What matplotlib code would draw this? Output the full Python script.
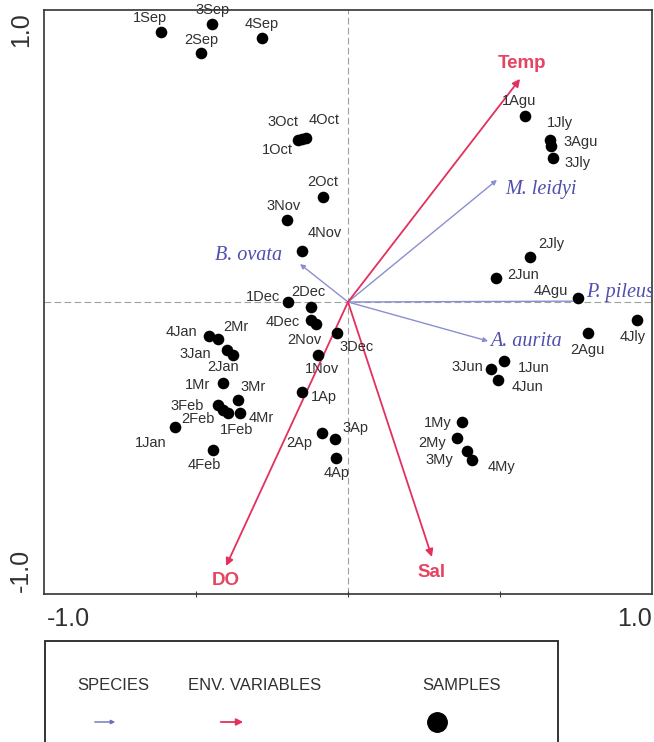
import numpy as np
import matplotlib
matplotlib.use("Agg")
import matplotlib.pyplot as plt
from matplotlib.patches import Rectangle, FancyArrowPatch
from matplotlib.lines import Line2D

plt.rcParams['font.family'] = ['Liberation Sans', 'DejaVu Sans']

# samples (site scores)
sample_names = ['1Sep', '2Sep', '3Sep', '4Sep', '1Oct', '3Oct', '4Oct', '2Oct',
                '3Nov', '4Nov', '1Dec', '2Dec', '4Dec', '2Nov', '3Dec', '1Nov',
                '4Jan', '2Mr', '3Jan', '2Jan', '1Mr', '3Mr', '3Feb', '2Feb',
                '1Feb', '4Mr', '1Jan', '4Feb', '1Ap', '2Ap', '3Ap', '4Ap',
                '1Agu', '1Jly', '3Agu', '3Jly', '2Jly', '2Jun', '4Agu', '4Jly',
                '2Agu', '1Jun', '3Jun', '4Jun', '1My', '2My', '3My', '4My']
sample_x = [-0.615, -0.484, -0.447, -0.283, -0.164, -0.151, -0.138, -0.082,
            -0.201, -0.151, -0.197, -0.122, -0.122, -0.105, -0.036, -0.099,
            -0.457, -0.428, -0.398, -0.378, -0.411, -0.362, -0.428, -0.411,
            -0.395, -0.355, -0.569, -0.444, -0.151, -0.086, -0.043, -0.039,
            0.582, 0.664, 0.668, 0.674, 0.599, 0.487, 0.757, 0.951,
            0.789, 0.513, 0.470, 0.493, 0.375, 0.359, 0.391, 0.408]
sample_y = [0.925, 0.853, 0.952, 0.904, 0.555, 0.558, 0.562, 0.360,
            0.281, 0.175, 0.000, -0.017, -0.062, -0.075, -0.106, -0.182,
            -0.116, -0.127, -0.164, -0.182, -0.277, -0.336, -0.353, -0.370,
            -0.380, -0.380, -0.428, -0.507, -0.308, -0.449, -0.469, -0.534,
            0.637, 0.555, 0.534, 0.493, 0.154, 0.082, 0.014, -0.062,
            -0.106, -0.202, -0.229, -0.267, -0.411, -0.466, -0.510, -0.541]

# species arrows
species_names = ['M. leidyi', 'B. ovata', 'P. pileus', 'A. aurita']
species_x = [0.490, -0.158, 0.773, 0.461]
species_y = [0.418, 0.130, 0.003, -0.134]

# environmental variable arrows
env_names = ['Temp', 'DO', 'Sal']
env_x = [0.566, -0.401, 0.276]
env_y = [0.764, -0.904, -0.873]

# label offsets in pixels (layout only)
label_offsets = {
    '1Sep': (-11, 14), '3Sep': (0, 14), '2Sep': (0, 13), '4Sep': (0, 14),
    '3Oct': (-19, 17), '4Oct': (18, 18), '1Oct': (-21, -10), '2Oct': (0, 15),
    '3Nov': (-3, 14), '4Nov': (23, 18), '1Dec': (-25, 5), '2Dec': (-3, 15),
    '4Dec': (-28, -2), '2Nov': (-12, -16), '3Dec': (20, -14), '1Nov': (4, -14),
    '4Jan': (-28, 4), '2Mr': (18, 12), '3Jan': (-32, -4), '2Jan': (-10, -12),
    '1Mr': (-26, -2), '3Mr': (15, 13), '3Feb': (-31, -1), '2Feb': (-25, -9),
    '1Feb': (9, -17), '4Mr': (21, -5), '1Jan': (-24, -16), '4Feb': (-9, -15),
    '1Ap': (22, -5), '2Ap': (-23, -10), '3Ap': (21, 11), '4Ap': (0, -15),
    '1Agu': (-6, 15), '1Jly': (10, 17), '3Agu': (30, 4), '3Jly': (25, -5),
    '2Jly': (21, 13), '2Jun': (27, 3), '4Agu': (-27, 7), '4Jly': (-4, -17),
    '2Agu': (0, -17), '1Jun': (30, -7), '3Jun': (-24, 2), '4Jun': (30, -7),
    '1My': (-24, -1), '2My': (-25, -5), '3My': (-28, -9), '4My': (29, -7),
}
species_label_pos = {'M. leidyi': (44, -10), 'B. ovata': (-51, 9),
                     'P. pileus': (3, 9), 'A. aurita': (38, 0)}
species_label_ha = {'M. leidyi': 'center', 'B. ovata': 'center',
                    'P. pileus': 'left', 'A. aurita': 'center'}
env_label_pos = {'Temp': (2, 15), 'DO': (0, -15), 'Sal': (0, -16)}

RED = '#e3305c'
RED_TXT = '#e44560'
BLUE = '#8a8fd0'
BLUE_TXT = '#4f4fae'
TXT = '#303030'

W, H = 654, 742
fig = plt.figure(figsize=(W / 100, H / 100), dpi=100)
ax = fig.add_axes([44 / W, 1 - 594 / H, 608 / W, 584 / H])
ax.set_xlim(-1, 1)
ax.set_ylim(-1, 1)

ax.axhline(0, color='#a0a0a0', lw=0.8, ls=(0, (6, 3)), zorder=1)
ax.axvline(0, color='#a0a0a0', lw=0.8, ls=(0, (6, 3)), zorder=1)

for name, x, y in zip(species_names, species_x, species_y):
    ax.annotate('', xy=(x, y), xytext=(0, 0),
                arrowprops=dict(arrowstyle='-|>', color=BLUE, lw=1.0,
                                mutation_scale=7, shrinkA=0, shrinkB=0), zorder=2)
    dx, dy = species_label_pos[name]
    ax.annotate(name, xy=(x, y), xytext=(dx * 0.72, dy * 0.72),
                textcoords='offset points', ha=species_label_ha[name], va='center',
                fontsize=14.5, fontstyle='italic', family='Liberation Serif',
                color=BLUE_TXT, clip_on=True)

for name, x, y in zip(env_names, env_x, env_y):
    ax.annotate('', xy=(x, y), xytext=(0, 0),
                arrowprops=dict(arrowstyle='-|>', color=RED, lw=1.3,
                                mutation_scale=11, shrinkA=0, shrinkB=0), zorder=3)
    dx, dy = env_label_pos[name]
    ax.annotate(name, xy=(x, y), xytext=(dx * 0.72, dy * 0.72),
                textcoords='offset points', ha='center', va='center',
                fontsize=13.5, fontweight='bold', color=RED_TXT)

ax.scatter(sample_x, sample_y, s=70, color='black', zorder=4, linewidths=0)
for name, x, y in zip(sample_names, sample_x, sample_y):
    dx, dy = label_offsets[name]
    ax.annotate(name, xy=(x, y), xytext=(dx * 0.72, dy * 0.72),
                textcoords='offset points', ha='center', va='center',
                fontsize=10.5, color=TXT, zorder=5, annotation_clip=False)

ax.set_xticks([-0.5, 0, 0.5])
ax.set_yticks([])
ax.set_xticklabels([])
ax.tick_params(direction='inout', length=5, width=0.8, color='#444444')
for s in ax.spines.values():
    s.set_linewidth(1.2)
    s.set_color('#333333')

ax.text(0.004, -0.022, '-1.0', transform=ax.transAxes, ha='left', va='top',
        fontsize=18, color=TXT)
ax.text(1.0, -0.022, '1.0', transform=ax.transAxes, ha='right', va='top',
        fontsize=18, color=TXT)
ax.text(-0.018, 0.997, '1.0', transform=ax.transAxes, ha='right', va='top',
        rotation=90, fontsize=18, color=TXT)
ax.text(-0.018, 0.003, '-1.0', transform=ax.transAxes, ha='right', va='bottom',
        rotation=90, fontsize=18, color=TXT)

# legend box
fig.patches.append(Rectangle((45 / W, -0.01), 513 / W, (742 - 641) / H + 0.01,
                             transform=fig.transFigure, fill=False,
                             edgecolor='#333333', lw=1.4))
legend_y = 1 - 686 / H
fig.text(113 / W, legend_y, 'SPECIES', ha='center', va='center', fontsize=12, color=TXT)
fig.text(255 / W, legend_y, 'ENV. VARIABLES', ha='center', va='center', fontsize=12, color=TXT)
fig.text(462 / W, legend_y, 'SAMPLES', ha='center', va='center', fontsize=12, color=TXT)
sym_y = 1 - 722 / H
fig.add_artist(FancyArrowPatch((92 / W, sym_y), (118 / W, sym_y),
               transform=fig.transFigure, arrowstyle='-|>', mutation_scale=6,
               color='#6a6fb8', lw=1.0))
fig.add_artist(FancyArrowPatch((218 / W, sym_y), (246 / W, sym_y),
               transform=fig.transFigure, arrowstyle='-|>', mutation_scale=10,
               color=RED, lw=1.3))
fig.add_artist(Line2D([437 / W], [sym_y], marker='o', markersize=14,
               color='black', transform=fig.transFigure))

fig.savefig('out.png', dpi=100)
